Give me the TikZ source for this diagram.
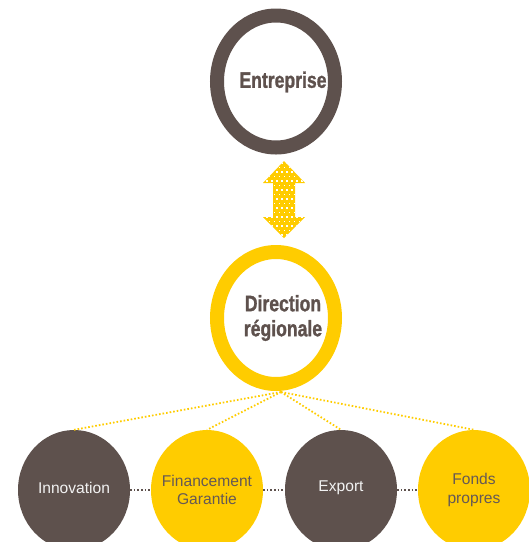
\documentclass[tikz,border=0pt]{standalone}
\usepackage{fontspec}
\usepackage{graphicx}
\setmainfont{Liberation Sans}
\newfontfamily\heavy[FakeBold=1.3]{Liberation Sans}
\usetikzlibrary{shapes.geometric}
\definecolor{brownc}{HTML}{5E514D}
\definecolor{yell}{HTML}{FFCC00}
\definecolor{lighttxt}{HTML}{F2F2F2}
\definecolor{graytxt}{HTML}{655955}
\tikzset{
  ring/.style={ellipse, draw=#1, line width=14pt, inner sep=0pt, fill=white,
    minimum width=118pt, minimum height=132pt},
  disc/.style={ellipse, fill=#1, inner sep=0pt, minimum width=112pt, minimum height=120pt},
  title/.style={text=brownc, font=\fontsize{20}{22}\heavy\bfseries, align=center, inner sep=0pt},
  small/.style={font=\fontsize{15.6}{18.5}\selectfont, align=center, inner sep=0pt},
  yline/.style={draw=yell, line width=1.8pt, dash pattern=on 1.6pt off 2pt},
  gline/.style={draw=brownc, line width=1.8pt, dash pattern=on 1.6pt off 2pt},
}
\newcommand{\tallt}[1]{\scalebox{0.88}[1.12]{#1}}
\begin{document}
\begin{tikzpicture}[x=1pt,y=-1pt]
\useasboundingbox (0,0) rectangle (529,542);
% top and middle rings
\node[ring=brownc] (ent) at (276,81.5) {};
\node[title] at (283,82) {\tallt{Entreprise}};
\node[ring=yell] (dir) at (276,318) {};
\node[title] at (283,318) {\tallt{Direction}\\[3pt]\tallt{régionale}};
% double arrow with white dots
\begin{scope}
  \path[clip] (284,161) -- (305,183) -- (295,183) -- (295,217) -- (305,217) -- (284,238)
     -- (263,217) -- (273,217) -- (273,183) -- (263,183) -- cycle;
  \fill[yell] (260,158) rectangle (310,240);
  \foreach \r in {0,...,17}{
    \pgfmathsetmacro{\yy}{162+\r*4.5}
    \pgfmathsetmacro{\off}{mod(\r,2)*2.5}
    \foreach \c in {0,...,9}{
      \fill[white] ({261+\off+\c*5},\yy) rectangle ++(1.7,1.7);
    }
  }
\end{scope}
% bottom discs
\node[disc=brownc] (inn) at (74,490) {};
\node[disc=yell] (fin) at (207,490) {};
\node[disc=brownc] (exp) at (341,490) {};
\node[disc=yell] (fon) at (474,490) {};
\node[small, text=lighttxt] at (74,488) {Innovation};
\node[small, text=graytxt] at (207,490) {Financement\\Garantie};
\node[small, text=lighttxt] at (341,488) {Export};
\node[small, text=graytxt] at (474,490) {Fonds\\propres};
% connectors
\coordinate (hub) at (281,392);
\draw[yline] (hub) -- (inn.north);
\draw[yline] (hub) -- (fin.north);
\draw[yline] (hub) -- (exp.north);
\draw[yline] (hub) -- (fon.north);
\draw[gline] (inn.east) -- (fin.west);
\draw[gline] (fin.east) -- (exp.west);
\draw[gline] (exp.east) -- (fon.west);
\end{tikzpicture}
\end{document}
